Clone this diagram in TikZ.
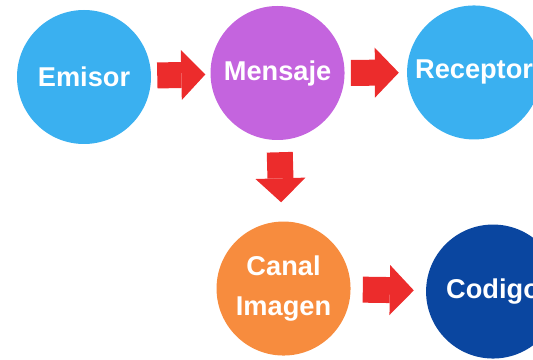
\documentclass[tikz,border=0pt]{standalone}
\usepackage{fontspec}
\setmainfont{Liberation Sans}
\usepackage{xcolor}
\usetikzlibrary{arrows.meta, positioning}

\definecolor{skyblue}{RGB}{58,176,240}
\definecolor{orchid}{RGB}{196,100,222}
\definecolor{tangerine}{RGB}{247,140,62}
\definecolor{navy}{RGB}{10,70,160}
\definecolor{arrowred}{RGB}{236,44,44}

\begin{document}
\begin{tikzpicture}[
  circ/.style={circle, minimum size=100.5pt, inner sep=0pt, align=center,
               text=white, font=\fontsize{20.4}{29.5}\selectfont\bfseries},
  bigarrow/.style={-{Triangle[length=18pt, width=37.5pt, line width=0pt]},
                   line width=19.5pt, draw=arrowred},
]
\useasboundingbox (0,0) rectangle (399.75pt,-270pt);

\node[circ, fill=skyblue] (emisor) at (63pt,-57.75pt) {Emisor};
\node[circ, fill=orchid,    right=44.25pt of emisor, yshift=3pt]   (mensaje) {Mensaje};
\node[circ, fill=skyblue,   right=46.5pt of mensaje, yshift=0.4pt] (receptor) {Receptor};
\node[circ, fill=tangerine, below=60.75pt of mensaje, xshift=4.5pt] (canal) {Canal\\Imagen};
\node[circ, fill=navy,      right=56.25pt of canal, yshift=-2.25pt] (codigo) {Codigo};

\draw[bigarrow, shorten <=4.5pt,  shorten >=3.75pt] (emisor)  -- (mensaje);
\draw[bigarrow, shorten <=4.5pt,  shorten >=6pt]    (mensaje) -- (receptor);
\draw[bigarrow, shorten <=9pt,    shorten >=14.25pt] (mensaje) -- (canal);
\draw[bigarrow, shorten <=9pt,    shorten >=9pt]    (canal)   -- (codigo);
\end{tikzpicture}
\end{document}
